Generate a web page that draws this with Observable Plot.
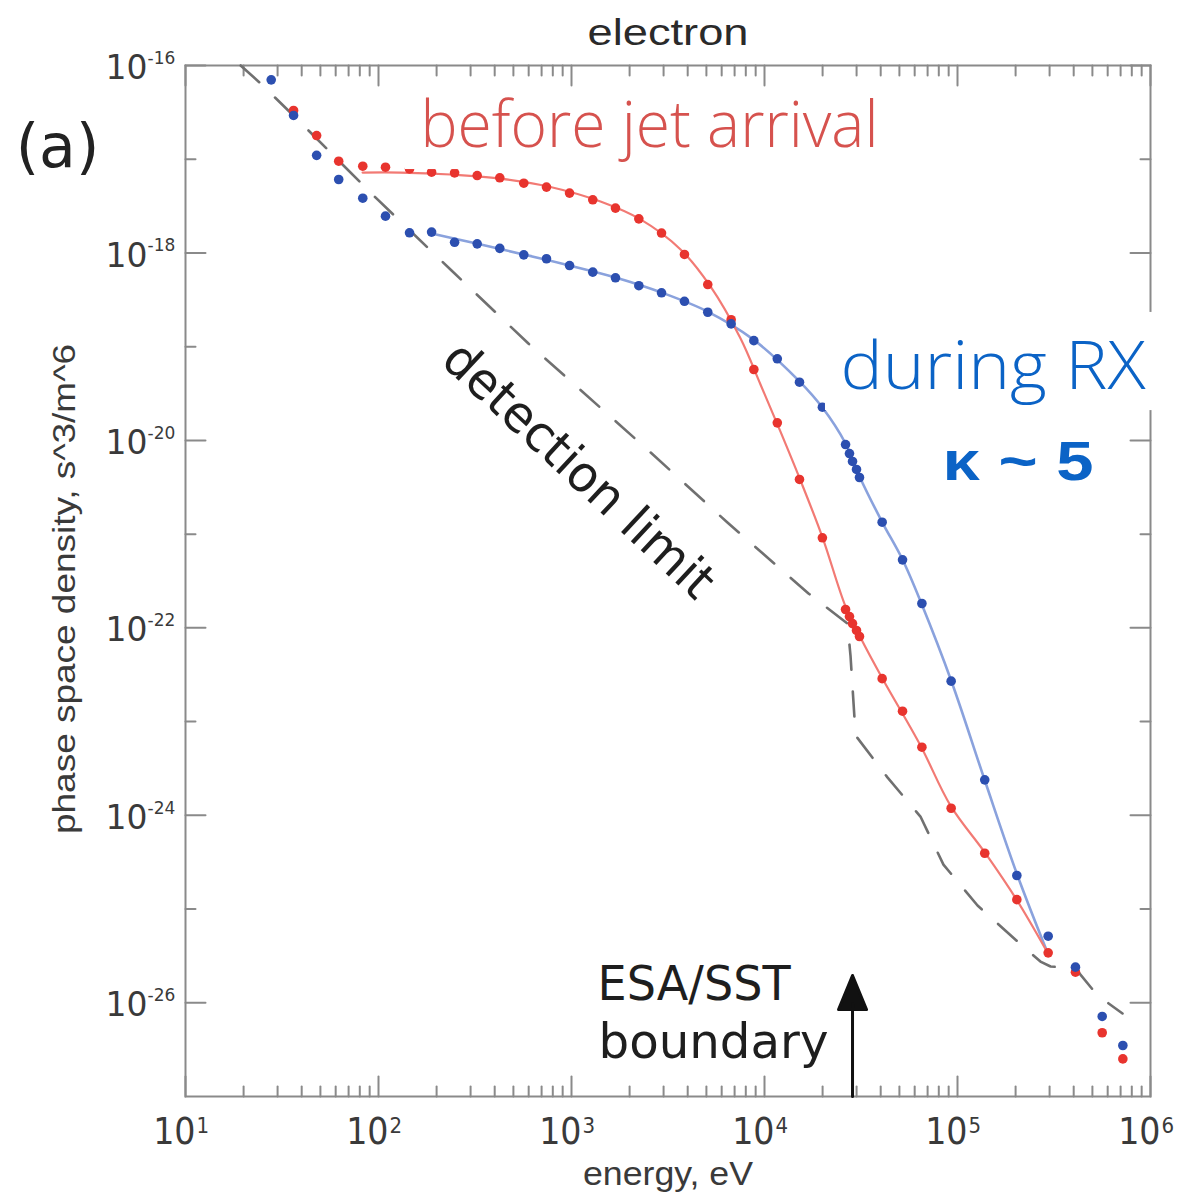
<!DOCTYPE html>
<html><head><meta charset="utf-8">
<script src="https://cdn.jsdelivr.net/npm/d3@7"></script>
<script src="https://cdn.jsdelivr.net/npm/@observablehq/plot@0.6"></script>
<style>body{margin:0;background:#fff;} svg{display:block}</style>
</head><body><div id="chart"></div>
<script>
// ---- data ----
const energy = [27.8, 36.3, 47.8, 62.2, 82.9, 108.7, 144.8, 188.4, 247.9, 324.6, 425, 566, 742, 977, 1289, 1690, 2233, 2927, 3848, 5082, 6717, 8806, 11650, 15180, 19950, 26300, 27560, 28580, 29970, 31060, 40700, 51900, 65400, 92700, 138400, 203000, 295000, 408500, 562000, 719000];
const fBlue = [7.03e-17, 2.93e-17, 1.10e-17, 6.08e-18, 3.84e-18, 2.47e-18, 1.64e-18, 1.67e-18, 1.30e-18, 1.25e-18, 1.12e-18, 9.55e-19, 8.67e-19, 7.34e-19, 6.24e-19, 5.43e-19, 4.47e-19, 3.76e-19, 3.05e-19, 2.33e-19, 1.75e-19, 1.16e-19, 7.43e-20, 4.18e-20, 2.26e-20, 9.03e-21, 7.24e-21, 5.96e-21, 4.90e-21, 4.02e-21, 1.34e-21, 5.32e-22, 1.82e-22, 2.70e-23, 2.39e-24, 2.28e-25, 5.13e-26, 2.40e-26, 7.15e-27, 3.50e-27];
const fRed = [NaN, 3.31e-17, 1.79e-17, 9.53e-18, 8.43e-18, 8.22e-18, 7.87e-18, 7.28e-18, 7.16e-18, 6.70e-18, 6.34e-18, 5.55e-18, 5.04e-18, 4.35e-18, 3.69e-18, 3.01e-18, 2.31e-18, 1.63e-18, 9.64e-19, 4.60e-19, 1.94e-19, 5.71e-20, 1.54e-20, 3.83e-21, 9.14e-22, 1.57e-22, 1.32e-22, 1.11e-22, 9.38e-23, 8.09e-23, 2.87e-23, 1.29e-23, 5.33e-24, 1.19e-24, 3.94e-25, 1.26e-25, 3.41e-26, 2.12e-26, 4.79e-27, 2.52e-27];

const redFitE = [82.7, 130, 236, 428, 778, 1413, 2278, 3673, 5248, 7516, 9534, 12100, 15370, 19990, 26300, 31420, 40830, 64270, 92000, 139700, 202300, 292400];
const redFitF = [7.21e-18, 7.21e-18, 6.87e-18, 6.22e-18, 5.06e-18, 3.54e-18, 2.28e-18, 1.09e-18, 4.39e-19, 1.22e-19, 3.95e-20, 1.24e-20, 3.73e-21, 9.20e-22, 1.69e-22, 7.88e-23, 2.88e-23, 5.56e-24, 1.27e-24, 3.92e-25, 1.26e-25, 3.44e-26];
const blueFitE = [188.4, 322, 564, 977, 1690, 2927, 5070, 8770, 15180, 19950, 26300, 31420, 40830, 51880, 65030, 93100, 138000, 204600, 292400];
const blueFitF = [1.61e-18, 1.26e-18, 9.64e-19, 7.34e-19, 5.47e-19, 3.78e-19, 2.37e-19, 1.19e-19, 4.26e-20, 2.24e-20, 9.27e-21, 3.93e-21, 1.33e-21, 5.36e-22, 1.82e-22, 2.68e-23, 2.41e-24, 2.28e-25, 3.44e-26];

const limitE = [19.3, 24.5, 39.4, 96.4, 239, 598, 2506, 6427, 16900, 26900, 27900, 29650, 43350, 64270, 84560, 127000, 204600, 269000, 303600, 408500, 531000, 716000];
const limitF = [1.0e-16, 6.43e-17, 2.47e-17, 3.91e-18, 6.50e-19, 1.08e-19, 7.80e-21, 1.33e-21, 2.33e-22, 1.11e-22, 5.07e-23, 7.11e-24, 2.54e-24, 9.70e-25, 2.98e-25, 1.09e-25, 4.51e-26, 2.75e-26, 2.44e-26, 2.32e-26, 1.20e-26, 7.69e-27];

const boundaryE = 28580;

// ticks and tick labels
const xMajor = [10, 100, 1000, 1e4, 1e5, 1e6];
const xMinorMult = [2, 3, 4, 5, 6, 7, 8, 9];
const xLabelExps = ["1", "2", "3", "4", "5", "6"];
const yEven = [1e-26, 1e-24, 1e-22, 1e-20, 1e-18, 1e-16];
const yOdd = [1e-25, 1e-23, 1e-21, 1e-19, 1e-17];
const yLabelExps = ["-26", "-24", "-22", "-20", "-18", "-16"];

// ---- drawing ----
const gray = "#8a8a8a";
const xMinor = xMajor.slice(0, -1).flatMap(d => xMinorMult.map(k => d * k));
const tickShape = {draw(ctx, l) { ctx.moveTo(0, 0); ctx.lineTo(0, -l); }};
const arrowShape = {draw(ctx, l) {
  ctx.moveTo(0, 0); ctx.lineTo(0, -l + 28);
  ctx.moveTo(-14, -l + 34); ctx.lineTo(0, -l); ctx.lineTo(14, -l + 34); ctx.closePath();
}};
const tick = (data, o) => Plot.vector(data, {shape: tickShape, anchor: "start", stroke: gray, strokeWidth: 2, ...o});
const idx = a => d3.range(a.length);

const axisFont = "'Liberation Sans', Arial, sans-serif";
const narrowFont = "'Liberation Sans Narrow', 'DejaVu Sans Condensed', 'Liberation Sans', sans-serif";
const annFont = "'DejaVu Sans', Verdana, sans-serif";
const lightFont = "'Open Sans', Lato, 'Noto Sans', sans-serif";

const plot = Plot.plot({
  width: 1179, height: 1192,
  marginLeft: 185, marginRight: 29, marginTop: 65, marginBottom: 96,
  x: {type: "log", domain: [10, 1e6], axis: null},
  y: {type: "log", domain: [1e-27, 1e-16], axis: null},
  style: {background: "#fff", overflow: "visible"},
  marks: [
    tick(xMinor, {x: d => d, y: 1e-27, length: 10, rotate: 0}),
    tick(xMajor, {x: d => d, y: 1e-27, length: 20, rotate: 0}),
    tick(xMinor, {x: d => d, y: 1e-16, length: 10, rotate: 180}),
    tick(xMajor, {x: d => d, y: 1e-16, length: 20, rotate: 180}),
    tick(yOdd, {x: 10, y: d => d, length: 10, rotate: 90}),
    tick(yEven, {x: 10, y: d => d, length: 20, rotate: 90}),
    tick(yOdd, {x: 1e6, y: d => d, length: 10, rotate: -90}),
    tick(yEven, {x: 1e6, y: d => d, length: 20, rotate: -90}),
    Plot.frame({stroke: gray, strokeWidth: 2}),

    // tick labels
    Plot.text(yEven, {x: 10, y: d => d, text: () => "10", dx: -38, dy: 3, textAnchor: "end", fontSize: 33, fontFamily: annFont, fill: "#3a3a3a"}),
    Plot.text(yEven, {x: 10, y: d => d, text: (d, i) => yLabelExps[i], dx: -38, dy: -7, textAnchor: "start", fontSize: 17, fontFamily: annFont, fill: "#3a3a3a"}),
    Plot.text(xMajor, {x: d => d, y: 1e-27, text: () => "10", dx: 10, dy: 36, textAnchor: "end", fontSize: 37, fontFamily: narrowFont, fill: "#3a3a3a"}),
    Plot.text(xMajor, {x: d => d, y: 1e-27, text: (d, i) => xLabelExps[i], dx: 11, dy: 29, textAnchor: "start", fontSize: 22, fontFamily: narrowFont, fill: "#3a3a3a"}),

    // titles
    Plot.text(["electron"], {frameAnchor: "top", textAnchor: "middle", lineAnchor: "middle", dy: -32, fontSize: 37, fontFamily: axisFont, fill: "#2a2a2a"}),
    Plot.text(["energy, eV"], {frameAnchor: "bottom", textAnchor: "middle", lineAnchor: "middle", dy: 78, fontSize: 33, fontFamily: axisFont, fill: "#3a3a3a"}),
    Plot.text(["phase space density, s^3/m^6"], {frameAnchor: "left", textAnchor: "middle", lineAnchor: "middle", dx: -121, dy: 8, rotate: -90, fontSize: 32, fontFamily: axisFont, fill: "#3a3a3a"}),
    Plot.text(["(a)"], {frameAnchor: "top-left", textAnchor: "middle", lineAnchor: "middle", dx: -128, dy: 82, fontSize: 60, fontFamily: annFont, fill: "#222"}),

    // detection limit
    Plot.line(idx(limitE), {x: i => limitE[i], y: i => limitF[i], stroke: "#707070", strokeWidth: 2.6, strokeDasharray: "25,22"}),

    // fits
    Plot.line(idx(blueFitE), {x: i => blueFitE[i], y: i => blueFitF[i], stroke: "#8aa2dd", strokeWidth: 2.6, curve: "catmull-rom"}),
    Plot.line(idx(redFitE), {x: i => redFitE[i], y: i => redFitF[i], stroke: "#f27a74", strokeWidth: 2.2, curve: "catmull-rom"}),

    // data points
    Plot.dot(idx(energy), {x: i => energy[i], y: i => fRed[i], r: 4.8, fill: "#e8342e"}),
    Plot.dot(idx(energy), {x: i => energy[i], y: i => fBlue[i], r: 4.8, fill: "#2c4fb0"}),

    // white label backgrounds
    Plot.rect([0], {x1: 138, x2: 42400, y1: 5.15e-17, y2: 7.76e-18, fill: "#fff"}),
    Plot.rect([0], {x1: 20700, x2: 1.5e6, y1: 2.32e-19, y2: 2.08e-20, fill: "#fff"}),

    // annotations
    Plot.text(["before jet arrival"], {x: 165, y: 2.21e-17, textAnchor: "start", fontSize: 64, fontWeight: 300, fontFamily: lightFont, fill: "#d6524e"}),
    Plot.text(["during RX"], {x: 24770, y: 6.0e-20, textAnchor: "start", fontSize: 66, fontWeight: 300, fontFamily: lightFont, fill: "#0b63c6"}),
    Plot.text(["κ ~ 5"], {x: 83560, y: 5.81e-21, textAnchor: "start", fontSize: 56, fontWeight: "bold", fontFamily: axisFont, fill: "#0b63c6"}),
    Plot.text(["detection limit"], {x: 1087, y: 4.78e-21, rotate: 43, fontSize: 50, fontFamily: annFont, fill: "#1e1e1e"}),
    Plot.text(["ESA/SST"], {x: 1365, y: 1.57e-26, textAnchor: "start", fontSize: 48, fontFamily: annFont, fill: "#1e1e1e"}),
    Plot.text(["boundary"], {x: 1380, y: 3.77e-27, textAnchor: "start", fontSize: 48, fontFamily: annFont, fill: "#1e1e1e"}),
    Plot.vector([boundaryE], {x: d => d, y: 1e-27, length: 121, rotate: 0, anchor: "start", shape: arrowShape, stroke: "#111", fill: "#111", strokeWidth: 3})
  ]
});
document.getElementById("chart").appendChild(plot);

// fit text widths to the reference
const lengths = {"electron": 161, "before jet arrival": 458, "during RX": 305, "κ ~ 5": 151, "ESA/SST": 193, "boundary": 230, "detection limit": 350, "phase space density, s^3/m^6": 490, "energy, eV": 170};
d3.select(plot).selectAll("text").each(function() {
  const t = this.textContent;
  if (lengths[t]) { this.setAttribute("textLength", lengths[t]); this.setAttribute("lengthAdjust", "spacingAndGlyphs"); }
});
</script>
</body></html>
